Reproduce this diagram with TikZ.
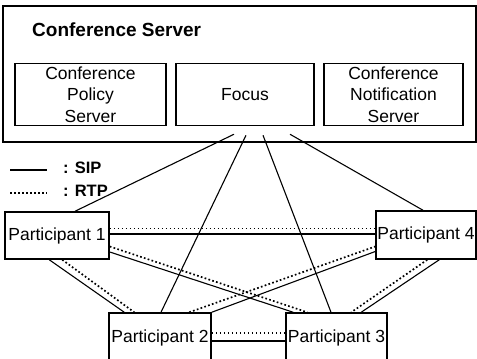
\documentclass[tikz,border=0pt]{standalone}
\usepackage{fontspec}
\setmainfont{Liberation Sans}
\usetikzlibrary{calc}
\begin{document}
\begin{tikzpicture}[x=1pt,y=-1pt,
  box/.style={draw, line width=1.5pt, inner sep=0pt, align=center,
    font=\fontsize{17.5}{21.5}\selectfont},
  lbl/.style={anchor=west, inner sep=0pt},
  sip/.style={line width=1.1pt},
  rtp/.style={line width=1.7pt, dash pattern=on 1.7pt off 2.3pt},
]
\useasboundingbox (0,0) rectangle (477,359);

% server
\node[box, minimum width=473pt, minimum height=136pt] (server) at (239.5,74) {};
\node[lbl, font=\bfseries\fontsize{19}{22}\selectfont] (title) at (32,30) {Conference Server};
\node[box, minimum width=151pt, minimum height=62pt] (policy) at (90.5,94.5) {Conference\\Policy\\Server};
\node[box, minimum width=138pt, minimum height=62pt] (focus) at (245,94.5) {Focus};
\node[box, minimum width=139pt, minimum height=62pt] (notif) at (393.5,94.5) {Conference\\Notification\\Server};

% participants
\node[box, minimum width=104pt, minimum height=47pt] (p1) at (57,235.5) {Participant 1};
\node[box, minimum width=100pt, minimum height=48pt] (p4) at (426,235) {Participant 4};
\node[box, minimum width=102pt, minimum height=50pt] (p2) at (160,338) {Participant 2};
\node[box, minimum width=101pt, minimum height=50pt] (p3) at (336.5,338) {Participant 3};

% legend
\coordinate (sipa) at (10,170);
\coordinate (sipb) at (47,170);
\coordinate (rtpa) at (10,193);
\coordinate (rtpb) at (47,193);
\draw[sip] (sipa) -- (sipb);
\draw[rtp] (rtpa) -- (rtpb);
\node[lbl, font=\bfseries\fontsize{16.5}{18}\selectfont] (siplbl) at (63,167.5) {: SIP};
\node[lbl, font=\bfseries\fontsize{16.5}{18}\selectfont] (rtplbl) at (63,191) {: RTP};

% focus connectors
\coordinate (f1) at ($(focus.south)+(-11,8)$);
\coordinate (f2) at ($(focus.south)+(1,9)$);
\coordinate (f3) at ($(focus.south)+(18,9)$);
\coordinate (f4) at ($(focus.south)+(45,8)$);
\draw[sip] (f1) -- ([xshift=18pt]p1.north);
\draw[sip] (f2) -- ([xshift=1pt]p2.north);
\draw[sip] (f3) -- ([xshift=-5.5pt]p3.north);
\draw[sip] (f4) -- ([xshift=-3pt]p4.north);

% P1 - P4
\draw[sip] ([yshift=1.5pt]p1.east) -- ([yshift=1pt]p4.west);
\draw[rtp] ([yshift=7pt]p1.east) -- ([yshift=6.5pt]p4.west);
% P1 - P3
\draw[sip] ([yshift=-16.5pt]p1.east) -- ([xshift=8pt]p3.north west);
\draw[rtp] ([yshift=-11pt]p1.east) -- ([xshift=22pt]p3.north west);
% P2 - P4
\draw[sip] (p2.north east) -- ([yshift=-16.5pt]p4.west);
\draw[rtp] ([xshift=81pt]p2.north west) -- ([yshift=-11.5pt]p4.west);
% P1 - P2
\draw[sip] ([xshift=45pt]p1.south west) -- ([xshift=16pt]p2.north west);
\draw[rtp] ([xshift=58pt]p1.south west) -- ([xshift=26pt]p2.north west);
% P4 - P3
\draw[sip] ([xshift=64pt]p4.south west) -- ([xshift=76pt]p3.north west);
\draw[rtp] ([xshift=52pt]p4.south west) -- ([xshift=66pt]p3.north west);
% P2 - P3
\draw[rtp] ([yshift=5pt]p2.east) -- ([yshift=5pt]p3.west);
\draw[sip] ([yshift=-3pt]p2.east) -- ([yshift=-3pt]p3.west);
\end{tikzpicture}
\end{document}
